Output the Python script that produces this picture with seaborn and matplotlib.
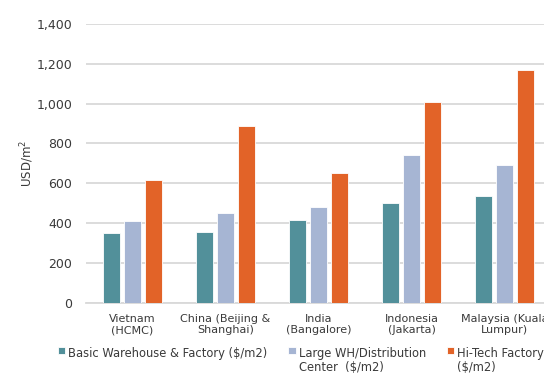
import pandas as pd
import matplotlib.pyplot as plt
import seaborn as sns

sns.set_style("white")
plt.rcParams["font.family"] = ["DejaVu Sans"]

cities = ["Vietnam\n(HCMC)", "China (Beijing &\nShanghai)", "India\n(Bangalore)",
          "Indonesia\n(Jakarta)", "Malaysia (Kuala\nLumpur)"]
series = ["Basic Warehouse & Factory ($/m2)", "Large WH/Distribution\nCenter  ($/m2)",
          "Hi-Tech Factory\n($/m2)"]
basic = [350, 355, 415, 500, 535]
large_wh = [410, 450, 480, 740, 690]
hi_tech = [615, 890, 650, 1010, 1170]
yticks = [0, 200, 400, 600, 800, 1000, 1200, 1400]

colors = ["#52909A", "#A6B5D3", "#E26328"]
TXT = "#3a3a3a"

rows = []
for s, vals in zip(series, [basic, large_wh, hi_tech]):
    for c, v in zip(cities, vals):
        rows.append({"city": c, "series": s, "value": v})
df = pd.DataFrame(rows)

fig = plt.figure(figsize=(5.44, 3.74), dpi=100)
ax = fig.add_axes([86 / 544, 1 - 302.7 / 374, 465 / 544, (302.7 - 24) / 374])

sns.barplot(data=df, x="city", y="value", hue="series", palette=colors, saturation=1,
            width=0.68, gap=0.2, edgecolor="white", linewidth=0.6, ax=ax,
            legend=True, zorder=3)

ax.set_xlim(-0.5, 4.5)
ax.set_ylim(0, 1400)
ax.set_yticks(yticks)
ax.set_yticklabels([f"{t:,}" for t in yticks])
ax.yaxis.grid(True, color="#d9d9d9", linewidth=1.3, zorder=0)
ax.set_axisbelow(True)
for sp in ["top", "right", "left"]:
    ax.spines[sp].set_visible(False)
ax.spines["bottom"].set_color("#d9d9d9")
ax.spines["bottom"].set_linewidth(1.3)
ax.tick_params(axis="both", length=0, colors=TXT)
ax.tick_params(axis="y", labelsize=9, pad=10)
ax.tick_params(axis="x", labelsize=8, pad=8)
ax.set_xlabel("")
ax.set_ylabel("USD/m$^2$", fontsize=8.5, color=TXT, labelpad=0)

handles, labels = ax.get_legend_handles_labels()
ax.get_legend().remove()
leg = fig.legend(handles, labels, loc="upper left", bbox_to_anchor=(52 / 544, 1 - 341 / 374),
                 ncol=3, frameon=False, fontsize=8.3, handlelength=0.65, handleheight=0.65,
                 handletextpad=0.25, columnspacing=1.8, borderpad=0, labelspacing=0.3,
                 labelcolor=TXT)
# keep the square markers next to the first line of each label
leg._legend_handle_box.align = "top"
for col in leg._legend_handle_box.get_children():
    col.align = "left"
    for item in col.get_children():
        item.align = "top"
for t in leg.get_texts():
    t.set_linespacing(1.1)

fig.savefig("out.png", dpi=100)
